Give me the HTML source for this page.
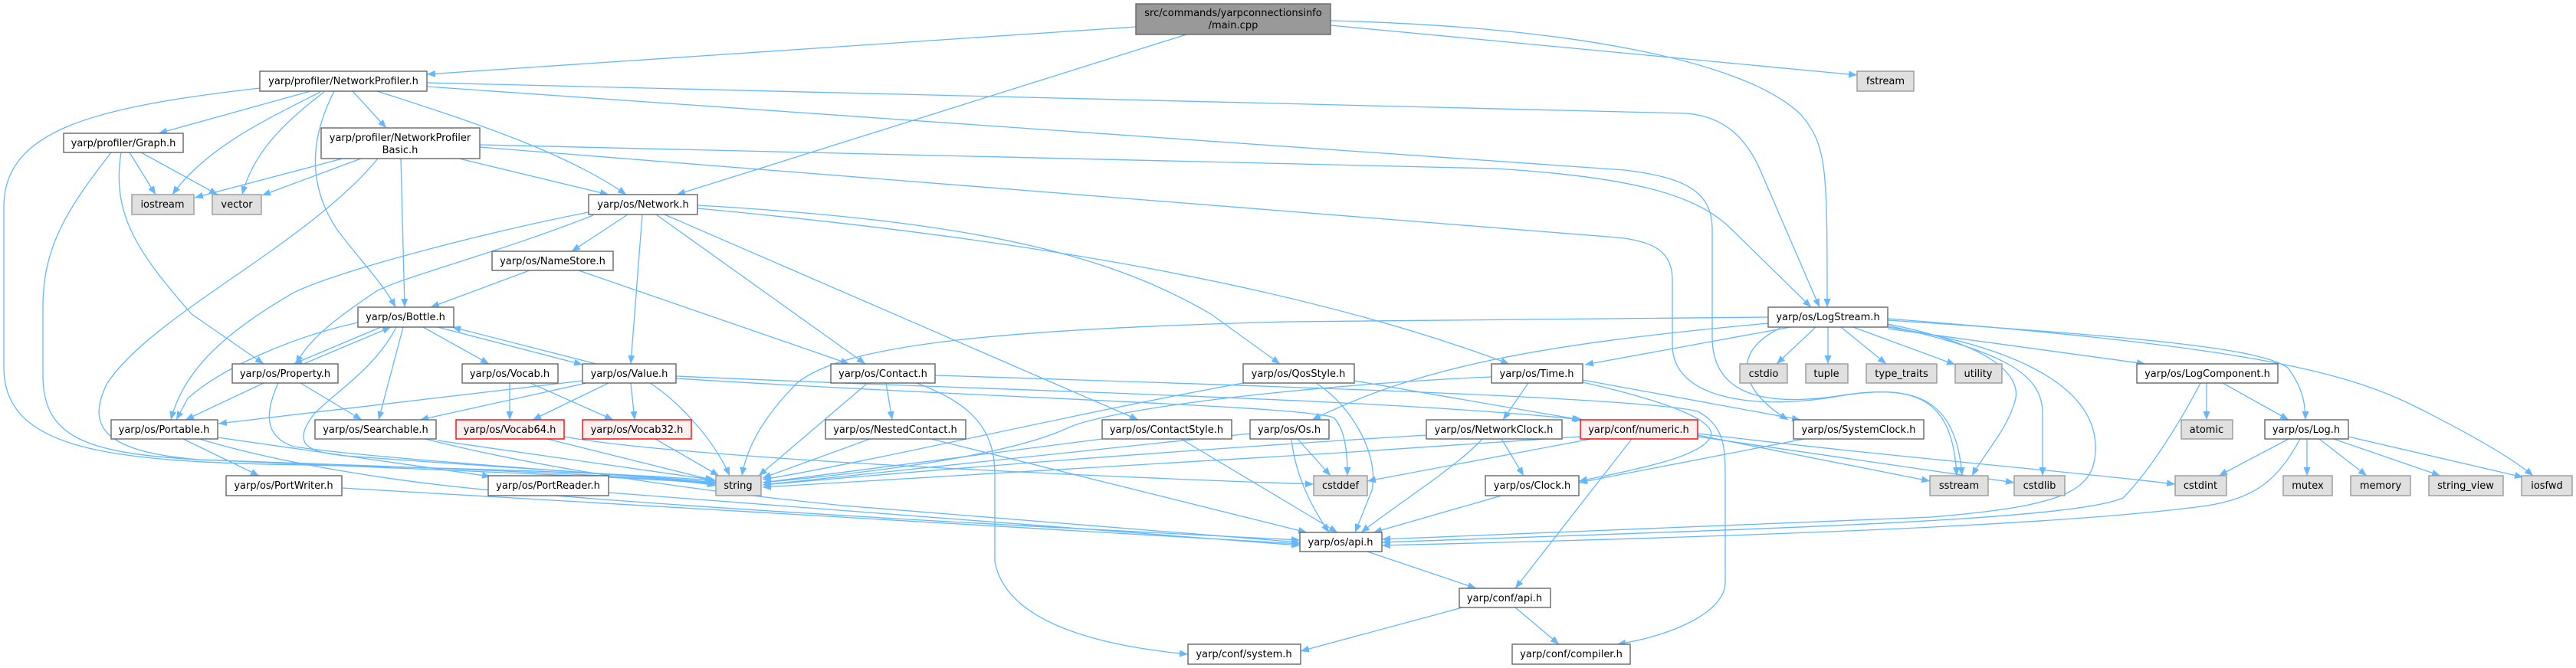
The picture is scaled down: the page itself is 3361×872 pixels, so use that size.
<!DOCTYPE html>
<html><head><meta charset="utf-8"><style>
html,body{margin:0;padding:0;background:#fff;}
svg{display:block;}
text{font-family:"DejaVu Sans","Liberation Sans",sans-serif;font-size:13px;fill:#000;text-anchor:middle;}
.e{fill:none;stroke:#63b8ff;stroke-width:1.3;marker-end:url(#a);}
.w{fill:#fff;stroke:#666;stroke-width:1.4;}
.g{fill:#e0e0e0;stroke:#999;stroke-width:1.4;}
.r{fill:#fff0f0;stroke:#f00;stroke-width:1.4;}
.d{fill:#999;stroke:#666;stroke-width:1.4;}
</style></head><body>
<svg width="3361" height="872" viewBox="0 0 3361 872" xmlns="http://www.w3.org/2000/svg">
<defs><marker id="a" markerUnits="userSpaceOnUse" markerWidth="11" markerHeight="9" viewBox="0 0 11 9" refX="11" refY="4.5" orient="auto"><path d="M0,0 L11,4.5 L0,9 z" fill="#63b8ff"/></marker></defs>
<g>
<path class="e" d="M1482,35 L557,97"/>
<path class="e" d="M1548,45 L883,254"/>
<path class="e" d="M1736,27 C2050,35 2280,80 2350,150 C2384,190 2384,220 2384,401"/>
<path class="e" d="M1736,33 L2423,98"/>
<path class="e" d="M405,119 L207,174"/>
<path class="e" d="M418,120 C360,150 270,190 225,254"/>
<path class="e" d="M423,120 C370,160 330,200 316,254"/>
<path class="e" d="M460,119 L504,167"/>
<path class="e" d="M436,119 C405,180 400,240 440,300 C470,340 500,370 516,401"/>
<path class="e" d="M492,119 C620,160 740,200 817,254"/>
<path class="e" d="M339,115 C120,140 5,170 5,270 L5,480 C5,590 150,603 400,607 C650,612 860,620 934,628"/>
<path class="e" d="M557,108 L2200,148 C2250,152 2280,180 2300,230 L2374,401"/>
<path class="e" d="M557,113 L2120,222 C2200,232 2234,250 2234,300 L2234,440 C2234,525 2320,530 2410,515 C2500,503 2552,520 2560,621"/>
<path class="e" d="M447,207 L254,258"/>
<path class="e" d="M471,207 L342,255"/>
<path class="e" d="M523,207 L528,401"/>
<path class="e" d="M599,207 L794,254"/>
<path class="e" d="M493,207 C400,320 200,410 140,500 C110,560 140,590 260,600 C600,615 880,625 934,632"/>
<path class="e" d="M626,189 L1950,220 C2150,232 2220,260 2260,300 L2363,401"/>
<path class="e" d="M626,192 L2110,310 C2160,315 2182,330 2182,365 L2182,450 C2182,525 2300,535 2400,517 C2500,500 2548,520 2553,621"/>
<path class="e" d="M169,199 L203,254"/>
<path class="e" d="M184,199 L284,254"/>
<path class="e" d="M158,199 C145,280 180,330 250,410 L344,475"/>
<path class="e" d="M145,199 C90,270 56,320 56,400 L56,490 C56,570 110,592 260,600 C600,612 880,622 934,634"/>
<path class="e" d="M819,280 L746,328"/>
<path class="e" d="M774,281 C650,330 530,360 491,380 C440,415 405,440 386,475"/>
<path class="e" d="M768,277 C650,300 450,350 383,382 C300,430 240,480 223,548"/>
<path class="e" d="M838,280 L823,475"/>
<path class="e" d="M856,280 L1129,475"/>
<path class="e" d="M867,280 L1485,548"/>
<path class="e" d="M910,268 C1300,290 1460,340 1580,410 L1670,475"/>
<path class="e" d="M910,272 C1320,310 1690,370 1969,475"/>
<path class="e" d="M691,353 L562,401"/>
<path class="e" d="M755,353 L1108,475"/>
<path class="e" d="M467,421 C380,440 290,480 245,520 L230,548"/>
<path class="e" d="M497,427 L383,475"/>
<path class="e" d="M396,475 L510,427"/>
<path class="e" d="M526,427 L494,548"/>
<path class="e" d="M517,427 C490,480 440,510 410,540 C380,580 400,590 450,595 C650,610 860,622 934,630"/>
<path class="e" d="M552,427 L638,475"/>
<path class="e" d="M571,427 L760,476"/>
<path class="e" d="M778,475 L590,427"/>
<path class="e" d="M344,500 L242,548"/>
<path class="e" d="M392,500 L472,548"/>
<path class="e" d="M363,500 C345,540 345,570 383,583 C500,600 800,618 934,631"/>
<path class="e" d="M760,497 L285,553"/>
<path class="e" d="M765,500 L548,548"/>
<path class="e" d="M794,500 L695,548"/>
<path class="e" d="M823,500 L828,548"/>
<path class="e" d="M848,500 C880,520 930,570 952,621"/>
<path class="e" d="M882,491 C1300,510 1800,520 2065,548"/>
<path class="e" d="M882,494 C1300,520 1700,530 1740,545 C1755,560 1758,590 1758,621"/>
<path class="e" d="M665,500 L665,548"/>
<path class="e" d="M692,500 L800,548"/>
<path class="e" d="M714,573 L931,627"/>
<path class="e" d="M736,570 C900,600 1500,625 1714,632"/>
<path class="e" d="M855,573 L938,621"/>
<path class="e" d="M239,573 L338,621"/>
<path class="e" d="M284,571 L640,622"/>
<path class="e" d="M260,573 C350,600 500,630 700,645 C1000,670 1400,690 1696,705"/>
<path class="e" d="M571,575 L934,627"/>
<path class="e" d="M555,573 C700,610 900,640 1100,660 C1400,685 1600,700 1696,708"/>
<path class="e" d="M446,637 C700,650 1200,680 1696,710"/>
<path class="e" d="M794,643 C1100,665 1400,690 1696,712"/>
<path class="e" d="M1132,500 L990,621"/>
<path class="e" d="M1156,500 L1164,548"/>
<path class="e" d="M1196,500 C1268,527 1298,560 1298,620 L1298,733 C1310,800 1400,840 1550,854"/>
<path class="e" d="M1220,490 C1700,505 2150,520 2215,537 C2248,555 2251,580 2251,620 L2251,760 C2251,800 2180,830 2110,841"/>
<path class="e" d="M1135,573 L995,624"/>
<path class="e" d="M1215,573 L1705,695"/>
<path class="e" d="M1438,573 L995,630"/>
<path class="e" d="M1541,573 L1745,695"/>
<path class="e" d="M1622,500 C1400,540 1150,600 995,626"/>
<path class="e" d="M1717,500 C1760,527 1800,590 1790,640 L1768,695"/>
<path class="e" d="M1767,497 L2062,548"/>
<path class="e" d="M1631,566 C1400,590 1150,615 995,633"/>
<path class="e" d="M1693,573 L1736,621"/>
<path class="e" d="M1685,573 C1690,620 1710,660 1734,695"/>
<path class="e" d="M2307,422 C2000,450 1850,480 1712,548"/>
<path class="e" d="M2336,427 L2068,476"/>
<path class="e" d="M2307,414 L1680,420 C1300,430 1100,450 1040,500 C1000,540 975,580 968,621"/>
<path class="e" d="M2323,428 C2257,460 2270,510 2333,548"/>
<path class="e" d="M2369,427 L2318,475"/>
<path class="e" d="M2385,427 L2385,475"/>
<path class="e" d="M2402,427 L2461,475"/>
<path class="e" d="M2418,427 L2551,476"/>
<path class="e" d="M2463,423 C2600,450 2635,490 2630,520 C2620,560 2590,590 2573,621"/>
<path class="e" d="M2463,425 C2620,460 2665,490 2665,540 L2665,621"/>
<path class="e" d="M2463,427 C2620,450 2730,500 2734,580 C2736,640 2700,660 2520,675 L1803,704"/>
<path class="e" d="M2463,429 L2799,475"/>
<path class="e" d="M2463,418 C2800,440 2950,455 2985,480 C3000,500 3008,520 3008,548"/>
<path class="e" d="M2463,416 C2900,450 3050,480 3150,530 C3230,570 3280,600 3305,621"/>
<path class="e" d="M1994,500 L1961,548"/>
<path class="e" d="M2065,496 L2349,548"/>
<path class="e" d="M2065,499 C2180,525 2240,550 2232,570 C2220,595 2150,610 2060,628"/>
<path class="e" d="M1946,492 C1750,500 1450,530 1390,560 C1300,600 1100,620 995,630"/>
<path class="e" d="M1861,568 C1500,590 1200,615 995,633"/>
<path class="e" d="M1959,573 L1988,621"/>
<path class="e" d="M1934,573 C1900,610 1820,660 1776,695"/>
<path class="e" d="M2076,573 L1784,628"/>
<path class="e" d="M2062,570 C1700,595 1300,620 995,636"/>
<path class="e" d="M2129,573 L1977,768"/>
<path class="e" d="M2215,568 L2518,628"/>
<path class="e" d="M2215,570 L2628,630"/>
<path class="e" d="M2215,566 C2500,600 2700,615 2838,632"/>
<path class="e" d="M2354,573 L2060,630"/>
<path class="e" d="M1959,647 L1792,695"/>
<path class="e" d="M1784,720 L1926,768"/>
<path class="e" d="M1908,793 L1697,850"/>
<path class="e" d="M1977,793 L2034,841"/>
<path class="e" d="M2879,500 L2879,548"/>
<path class="e" d="M2900,500 L2986,548"/>
<path class="e" d="M2871,500 C2840,560 2800,620 2770,650 C2700,680 2300,690 1803,708"/>
<path class="e" d="M2986,573 L2895,621"/>
<path class="e" d="M3001,573 C2970,630 2940,650 2880,660 C2700,685 2300,700 1803,712"/>
<path class="e" d="M3010,573 L3010,621"/>
<path class="e" d="M3026,573 L3088,621"/>
<path class="e" d="M3045,573 L3184,621"/>
<path class="e" d="M3064,570 L3292,623"/>
</g>
<g>
<rect class="d" x="1482" y="5" width="254" height="40"/><text x="1609" y="21">src/commands/yarpconnectionsinfo</text><text x="1609" y="37">/main.cpp</text>
<rect class="w" x="339" y="93" width="218" height="26"/><text x="448" y="110">yarp/profiler/NetworkProfiler.h</text>
<rect class="g" x="2423" y="93" width="74" height="26"/><text x="2460" y="110">fstream</text>
<rect class="w" x="83" y="174" width="156" height="25"/><text x="161" y="191">yarp/profiler/Graph.h</text>
<rect class="w" x="419" y="167" width="207" height="40"/><text x="522" y="184">yarp/profiler/NetworkProfiler</text><text x="522" y="200">Basic.h</text>
<rect class="g" x="172" y="254" width="81" height="26"/><text x="212" y="271">iostream</text>
<rect class="g" x="277" y="254" width="64" height="26"/><text x="309" y="271">vector</text>
<rect class="w" x="768" y="254" width="142" height="26"/><text x="839" y="271">yarp/os/Network.h</text>
<rect class="w" x="642" y="328" width="158" height="25"/><text x="721" y="345">yarp/os/NameStore.h</text>
<rect class="w" x="467" y="401" width="125" height="26"/><text x="529" y="418">yarp/os/Bottle.h</text>
<rect class="w" x="2307" y="401" width="156" height="26"/><text x="2385" y="418">yarp/os/LogStream.h</text>
<rect class="w" x="303" y="475" width="138" height="25"/><text x="372" y="492">yarp/os/Property.h</text>
<rect class="w" x="603" y="475" width="125" height="25"/><text x="665" y="492">yarp/os/Vocab.h</text>
<rect class="w" x="760" y="475" width="122" height="25"/><text x="821" y="492">yarp/os/Value.h</text>
<rect class="w" x="1084" y="475" width="136" height="25"/><text x="1152" y="492">yarp/os/Contact.h</text>
<rect class="w" x="1622" y="475" width="145" height="25"/><text x="1694" y="492">yarp/os/QosStyle.h</text>
<rect class="w" x="1946" y="475" width="119" height="25"/><text x="2005" y="492">yarp/os/Time.h</text>
<rect class="g" x="2270" y="475" width="62" height="25"/><text x="2301" y="492">cstdio</text>
<rect class="g" x="2356" y="475" width="55" height="25"/><text x="2383" y="492">tuple</text>
<rect class="g" x="2435" y="475" width="92" height="25"/><text x="2481" y="492">type_traits</text>
<rect class="g" x="2551" y="475" width="61" height="25"/><text x="2581" y="492">utility</text>
<rect class="w" x="2788" y="475" width="184" height="25"/><text x="2880" y="492">yarp/os/LogComponent.h</text>
<rect class="w" x="145" y="548" width="139" height="25"/><text x="214" y="565">yarp/os/Portable.h</text>
<rect class="w" x="411" y="548" width="158" height="25"/><text x="490" y="565">yarp/os/Searchable.h</text>
<rect class="r" x="595" y="548" width="141" height="25"/><text x="665" y="565">yarp/os/Vocab64.h</text>
<rect class="r" x="760" y="548" width="142" height="25"/><text x="831" y="565">yarp/os/Vocab32.h</text>
<rect class="w" x="1077" y="548" width="183" height="25"/><text x="1168" y="565">yarp/os/NestedContact.h</text>
<rect class="w" x="1438" y="548" width="169" height="25"/><text x="1522" y="565">yarp/os/ContactStyle.h</text>
<rect class="w" x="1631" y="548" width="103" height="25"/><text x="1682" y="565">yarp/os/Os.h</text>
<rect class="w" x="1861" y="548" width="177" height="25"/><text x="1949" y="565">yarp/os/NetworkClock.h</text>
<rect class="r" x="2062" y="548" width="153" height="25"/><text x="2138" y="565">yarp/conf/numeric.h</text>
<rect class="w" x="2340" y="548" width="170" height="25"/><text x="2425" y="565">yarp/os/SystemClock.h</text>
<rect class="g" x="2846" y="548" width="67" height="25"/><text x="2879" y="565">atomic</text>
<rect class="w" x="2955" y="548" width="109" height="25"/><text x="3009" y="565">yarp/os/Log.h</text>
<rect class="w" x="295" y="621" width="151" height="26"/><text x="370" y="638">yarp/os/PortWriter.h</text>
<rect class="w" x="637" y="621" width="157" height="26"/><text x="715" y="638">yarp/os/PortReader.h</text>
<rect class="g" x="934" y="621" width="59" height="26"/><text x="963" y="638">string</text>
<rect class="g" x="1714" y="621" width="70" height="26"/><text x="1749" y="638">cstddef</text>
<rect class="w" x="1938" y="621" width="122" height="26"/><text x="1999" y="638">yarp/os/Clock.h</text>
<rect class="g" x="2518" y="621" width="76" height="26"/><text x="2556" y="638">sstream</text>
<rect class="g" x="2628" y="621" width="66" height="26"/><text x="2661" y="638">cstdlib</text>
<rect class="g" x="2838" y="621" width="67" height="26"/><text x="2871" y="638">cstdint</text>
<rect class="g" x="2979" y="621" width="64" height="26"/><text x="3011" y="638">mutex</text>
<rect class="g" x="3067" y="621" width="78" height="26"/><text x="3106" y="638">memory</text>
<rect class="g" x="3169" y="621" width="97" height="26"/><text x="3217" y="638">string_view</text>
<rect class="g" x="3290" y="621" width="66" height="26"/><text x="3323" y="638">iosfwd</text>
<rect class="w" x="1696" y="695" width="107" height="25"/><text x="1749" y="712">yarp/os/api.h</text>
<rect class="w" x="1904" y="768" width="119" height="25"/><text x="1963" y="785">yarp/conf/api.h</text>
<rect class="w" x="1550" y="841" width="147" height="26"/><text x="1623" y="858">yarp/conf/system.h</text>
<rect class="w" x="1973" y="841" width="154" height="26"/><text x="2050" y="858">yarp/conf/compiler.h</text>
</g>
</svg>
</body></html>
